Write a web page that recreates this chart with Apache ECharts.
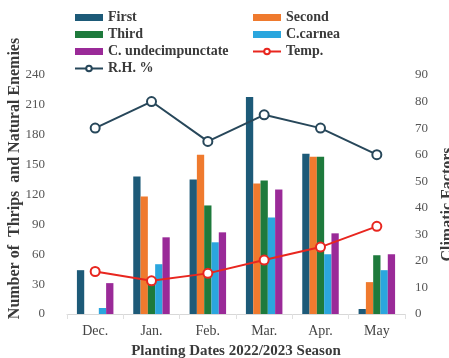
<!DOCTYPE html>
<html><head><meta charset="utf-8">
<script src="https://cdn.jsdelivr.net/npm/echarts@6/dist/echarts.min.js"></script>
<style>html,body{margin:0;padding:0;background:#fff}#c{width:449px;height:358px}</style>
</head><body><div id="c"></div>
<script>
const categories = ['Dec.', 'Jan.', 'Feb.', 'Mar.', 'Apr.', 'May'];
const first = [44, 138, 135, 218, 161, 5];
const second = [0, 118, 160, 131, 158, 32];
const third = [0, 30, 109, 134, 158, 59];
const ccarnea = [6, 50, 72, 97, 60, 44];
const cundec = [31, 77, 82, 125, 81, 60];
const temp = [16, 12.5, 15.3, 20.3, 25.2, 33];
const rh = [70, 80, 65, 75, 70, 60];
const leftTicks = [0, 240, 30];
const rightTicks = [0, 90, 10];

const serif = '"Liberation Serif", "DejaVu Serif", serif';
const chart = echarts.init(document.getElementById('c'));
const barW = 7.3;
function bar(name, data, color) {
  return { name, type: 'bar', data, barWidth: barW, barGap: '0%', itemStyle: { color }, yAxisIndex: 0 };
}
function line(name, data, color) {
  return { name, type: 'line', data, yAxisIndex: 1, symbol: 'circle', symbolSize: 9,
    lineStyle: { color, width: 2 }, itemStyle: { color: '#fff', borderColor: color, borderWidth: 2 }, z: 5 };
}
const legendText = { fontFamily: serif, fontSize: 14, fontWeight: 'bold', color: '#3a3a3a', lineHeight: 15 };
chart.setOption({
  animation: false,
  backgroundColor: '#fff',
  grid: { left: 67, right: 44, top: 75, bottom: 44, outerBoundsMode: 'none', containLabel: false },
  legend: [
    { left: 74, top: 10, padding: 0, orient: 'vertical', itemWidth: 28, itemHeight: 7, itemGap: 2, textStyle: legendText,
      data: [{ name: 'First', icon: 'rect' }, { name: 'Third', icon: 'rect' }, { name: 'C. undecimpunctate', icon: 'rect' }, { name: 'R.H. %' }] },
    { left: 252, top: 10, padding: 0, orient: 'vertical', itemWidth: 28, itemHeight: 7, itemGap: 2, textStyle: legendText,
      data: [{ name: 'Second', icon: 'rect' }, { name: 'C.carnea', icon: 'rect' }, { name: 'Temp.' }] }
  ],
  xAxis: {
    type: 'category', data: categories,
    axisLine: { lineStyle: { color: '#d8d8d8', width: 1 } },
    axisTick: { show: true, alignWithLabel: false, lineStyle: { color: '#e0e0e0' } },
    axisLabel: { fontFamily: serif, fontSize: 14, color: '#444', margin: 10 },
    name: 'Planting Dates 2022/2023 Season', nameLocation: 'middle', nameGap: 30,
    nameTextStyle: { fontFamily: serif, fontSize: 15, fontWeight: 'bold', color: '#3a3a3a' }
  },
  yAxis: [
    { type: 'value', min: leftTicks[0], max: leftTicks[1], interval: leftTicks[2],
      axisLine: { show: false }, axisTick: { show: false }, splitLine: { show: false },
      axisLabel: { fontFamily: serif, fontSize: 13, color: '#555', margin: 22 },
      name: 'Number of  Thrips  and Natural Enemies', nameLocation: 'middle', nameGap: 44, nameMoveOverlap: false,
      nameTextStyle: { fontFamily: serif, fontSize: 16, fontWeight: 'bold', color: '#3a3a3a', padding: [0, 0, 0, 32] } },
    { type: 'value', min: rightTicks[0], max: rightTicks[1], interval: rightTicks[2],
      axisLine: { show: false }, axisTick: { show: false }, splitLine: { show: false },
      axisLabel: { fontFamily: serif, fontSize: 13, color: '#555', margin: 10 },
      name: 'Climatic Factors', nameLocation: 'middle', nameGap: 35, nameMoveOverlap: false,
      nameTextStyle: { fontFamily: serif, fontSize: 16, fontWeight: 'bold', color: '#3a3a3a', padding: [0, 20, 0, 0] } }
  ],
  series: [
    bar('First', first, '#1d5a78'),
    bar('Second', second, '#ef7a2e'),
    bar('Third', third, '#1e7a3c'),
    bar('C.carnea', ccarnea, '#2ba6de'),
    bar('C. undecimpunctate', cundec, '#9a2a98'),
    line('Temp.', temp, '#e8261f'),
    line('R.H. %', rh, '#27475a')
  ]
});
</script></body></html>
